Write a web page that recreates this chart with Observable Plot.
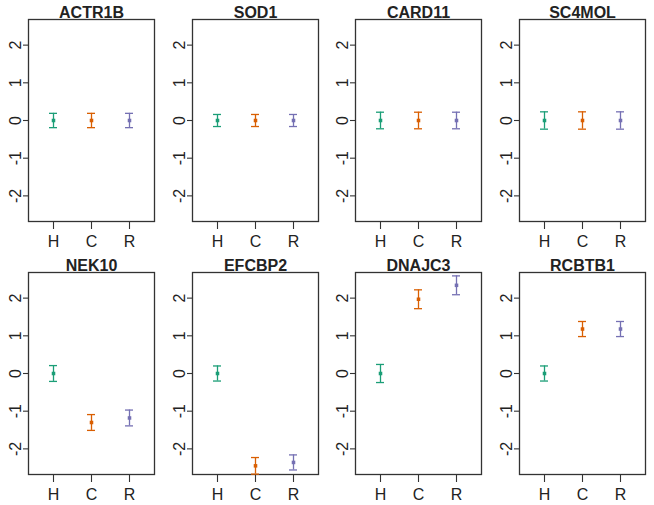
<!DOCTYPE html>
<html>
<head>
<meta charset="utf-8">
<script src="https://cdn.jsdelivr.net/npm/d3@7"></script>
<script src="https://cdn.jsdelivr.net/npm/@observablehq/plot@0.6"></script>
<style>
  html, body { margin: 0; padding: 0; background: #fff; }
  #grid { display: grid; grid-template-columns: repeat(4, 163.5px); grid-template-rows: repeat(2, 252.5px); width: 654px; height: 505px; }
  svg { display: block; }
</style>
</head>
<body>
<div id="grid"></div>
<script>
const genes = ["ACTR1B", "SOD1", "CARD11", "SC4MOL", "NEK10", "EFCBP2", "DNAJC3", "RCBTB1"];
const groups = ["H", "C", "R"];
const colors = ["#1B9E77", "#D95F02", "#7570B3"];
const means = [
  [0, 0, 0],
  [0, 0, 0],
  [0, 0, 0],
  [0, 0, 0],
  [0, -1.30, -1.18],
  [0, -2.45, -2.36],
  [0, 1.97, 2.34],
  [0, 1.18, 1.18]
];
const errors = [
  [0.19, 0.19, 0.19],
  [0.16, 0.16, 0.16],
  [0.22, 0.22, 0.22],
  [0.23, 0.23, 0.23],
  [0.21, 0.21, 0.21],
  [0.20, 0.22, 0.20],
  [0.24, 0.25, 0.25],
  [0.20, 0.20, 0.20]
];
const yTicks = [-2, -1, 0, 1, 2];

const font = "Liberation Sans, Arial, sans-serif";
const grid = document.getElementById("grid");
genes.forEach((gene, gi) => {
  const rows = groups.map((g, i) => ({
    g,
    m: means[gi][i],
    lo: means[gi][i] - errors[gi][i],
    hi: means[gi][i] + errors[gi][i]
  }));
  const chart = Plot.plot({
    width: 163.5,
    height: 252.5,
    marginLeft: 28,
    marginRight: 9.5,
    marginTop: 19,
    marginBottom: 31.5,
    style: { fontFamily: font, color: "#222", background: "#fff" },
    x: { type: "band", domain: groups, paddingInner: 0.795, paddingOuter: 0.52, axis: null },
    y: { domain: [-2.68, 2.68], axis: null },
    color: { domain: groups, range: colors },
    marks: [
      Plot.frame({ stroke: "#333", strokeWidth: 1.3 }),
      Plot.axisY(yTicks, { tickSize: 5, tickFormat: () => "", label: null, stroke: "#333", strokeWidth: 1.1 }),
      Plot.axisX(groups, { tickSize: 8, tickFormat: () => "", label: null, stroke: "#333", strokeWidth: 1.1 }),
      Plot.text(yTicks, { y: d => d, text: d => String(d), frameAnchor: "left", rotate: -90, textAnchor: "middle", lineAnchor: "middle", dx: -13, fontSize: 16, fill: "#222" }),
      Plot.text(groups, { x: d => d, text: d => d, frameAnchor: "bottom", lineAnchor: "middle", dy: 20, fontSize: 16, fill: "#222" }),
      Plot.ruleX(rows, { x: "g", y1: "lo", y2: "hi", stroke: "g", strokeWidth: 1.3 }),
      Plot.tickY(rows, { x: "g", y: "lo", stroke: "g", strokeWidth: 1.3 }),
      Plot.tickY(rows, { x: "g", y: "hi", stroke: "g", strokeWidth: 1.3 }),
      Plot.dot(rows, { x: "g", y: "m", fill: "g", symbol: "square", r: 2 }),
      Plot.text([gene], { text: d => d, frameAnchor: "top", lineAnchor: "middle", dy: -7, fontSize: 16, fontWeight: "bold", fill: "#222" })
    ]
  });
  grid.appendChild(chart);
});
</script>
</body>
</html>
